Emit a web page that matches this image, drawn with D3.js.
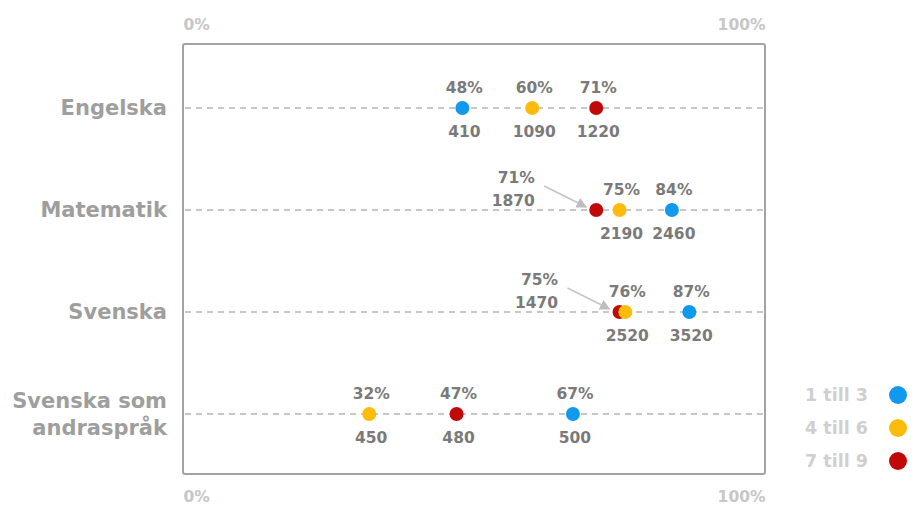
<!DOCTYPE html>
<html><head><meta charset="utf-8">
<script src="https://cdn.jsdelivr.net/npm/d3@7"></script>
<style>
body{margin:0;background:#fff;}
svg{display:block;font-family:"DejaVu Sans",sans-serif;}
</style></head>
<body>
<svg id="chart" width="915" height="505"></svg>
<script>
const categories = ["Engelska","Matematik","Svenska","Svenska som andraspråk"];
const seriesNames = ["1 till 3","4 till 6","7 till 9"];
const pct13 = [48,84,87,67];
const pct46 = [60,75,76,32];
const pct79 = [71,71,75,47];
const n13 = [410,2460,3520,500];
const n46 = [1090,2190,2520,450];
const n79 = [1220,1870,1470,480];
const axisTicks = [0,100];
const calloutCats = ["Matematik","Svenska"]; // 7 till 9 labels moved out with arrow

const colors = {"1 till 3":"#1199ee","4 till 6":"#fdbb0b","7 till 9":"#c00a0a"};
const seriesData = [
  {name:"1 till 3", pct:pct13, n:n13},
  {name:"4 till 6", pct:pct46, n:n46},
  {name:"7 till 9", pct:pct79, n:n79}
];

const svg = d3.select("#chart");
const box = {l:183, r:765, t:44, b:474};
const x = d3.scaleLinear().domain([0,100]).range([box.l, box.r]);
const y = d3.scalePoint().domain(categories).range([108, 414]);

const defs = svg.append("defs");
defs.append("marker").attr("id","arr").attr("viewBox","0 0 10 10")
  .attr("refX",9).attr("refY",5).attr("markerWidth",7).attr("markerHeight",7)
  .attr("orient","auto").append("path").attr("d","M0,0L10,5L0,10z").attr("fill","#bdbdbd");

// box
svg.append("rect").attr("x",box.l).attr("y",box.t).attr("width",box.r-box.l).attr("height",box.b-box.t)
  .attr("rx",2).attr("fill","none").attr("stroke","#a3a3a3").attr("stroke-width",2);

// axes top & bottom
function styleAxis(g){
  g.select(".domain").remove();
  g.selectAll(".tick line").remove();
  g.selectAll(".tick text").attr("fill","#c6c6c6").attr("font-size",15.5).attr("font-weight",700)
    .attr("font-family","'DejaVu Sans',sans-serif")
    .attr("text-anchor",(d,i)=> i===0 ? "start" : "end");
}
svg.append("g").attr("transform",`translate(0,${box.t-14})`)
  .call(d3.axisTop(x).tickValues(axisTicks).tickFormat(d=>d+"%").tickSize(0).tickPadding(0))
  .call(styleAxis);
svg.append("g").attr("transform",`translate(0,${box.b+17})`)
  .call(d3.axisBottom(x).tickValues(axisTicks).tickFormat(d=>d+"%").tickSize(0).tickPadding(0))
  .call(g=>{styleAxis(g); g.selectAll(".tick text").attr("dy","0.71em");});

// dashed row lines
svg.append("g").selectAll("line").data(categories).join("line")
  .attr("x1",box.l+2).attr("x2",box.r-2).attr("y1",d=>y(d)).attr("y2",d=>y(d))
  .attr("stroke","#b5b5b5").attr("stroke-width",1.5).attr("stroke-dasharray","6,5");

// category labels
const catG = svg.append("g");
categories.forEach(c=>{
  const lines = c==="Svenska som andraspråk" ? ["Svenska som","andraspråk"] : [c];
  const t = catG.append("text").attr("x",167).attr("text-anchor","end")
    .attr("fill","#9e9e9e").attr("font-size",21).attr("font-weight",700);
  lines.forEach((l,i)=>{
    t.append("tspan").attr("x",167)
      .attr("y", y(c) + (lines.length===1 ? 7 : (i===0 ? -6 : 21)))
      .text(l);
  });
});

// points
const pts = [];
seriesData.forEach(s=>{
  categories.forEach((c,i)=>pts.push({series:s.name, cat:c, pct:s.pct[i], n:s.n[i]}));
});
const drawOrder = ["7 till 9","4 till 6","1 till 3"];
pts.sort((a,b)=>drawOrder.indexOf(a.series)-drawOrder.indexOf(b.series));

const isCallout = d => d.series==="7 till 9" && calloutCats.includes(d.cat);

svg.append("g").selectAll("circle").data(pts).join("circle")
  .attr("cx",d=>x(d.pct)).attr("cy",d=>y(d.cat)).attr("r",7)
  .attr("fill",d=>colors[d.series]);

const lab = svg.append("g").attr("fill","#7a7a7a").attr("font-size",15.5).attr("font-weight",700);
pts.filter(d=>!isCallout(d)).forEach(d=>{
  lab.append("text").attr("x",x(d.pct)+2).attr("y",y(d.cat)-15).attr("text-anchor","middle").text(d.pct+"%");
  lab.append("text").attr("x",x(d.pct)+2).attr("y",y(d.cat)+29).attr("text-anchor","middle").text(d.n);
});
pts.filter(isCallout).forEach(d=>{
  const cx = x(d.pct), cy = y(d.cat);
  const tx = cx - 80;
  lab.append("text").attr("x",tx).attr("y",cy-27).attr("text-anchor","middle").text(d.pct+"%");
  lab.append("text").attr("x",tx-3).attr("y",cy-4).attr("text-anchor","middle").text(d.n);
  svg.append("line").attr("x1",cx-52).attr("y1",cy-24).attr("x2",cx-10).attr("y2",cy-3)
    .attr("stroke","#c4c4c4").attr("stroke-width",1.5).attr("marker-end","url(#arr)");
});

// legend
const leg = svg.append("g");
seriesNames.forEach((s,i)=>{
  const ly = 395 + i*33;
  leg.append("text").attr("x",868).attr("y",ly+6).attr("text-anchor","end")
    .attr("fill","#cfcfcf").attr("font-size",17.5).attr("font-weight",700).text(s);
  leg.append("circle").attr("cx",898).attr("cy",ly).attr("r",9).attr("fill",colors[s]);
});
</script>
</body></html>
